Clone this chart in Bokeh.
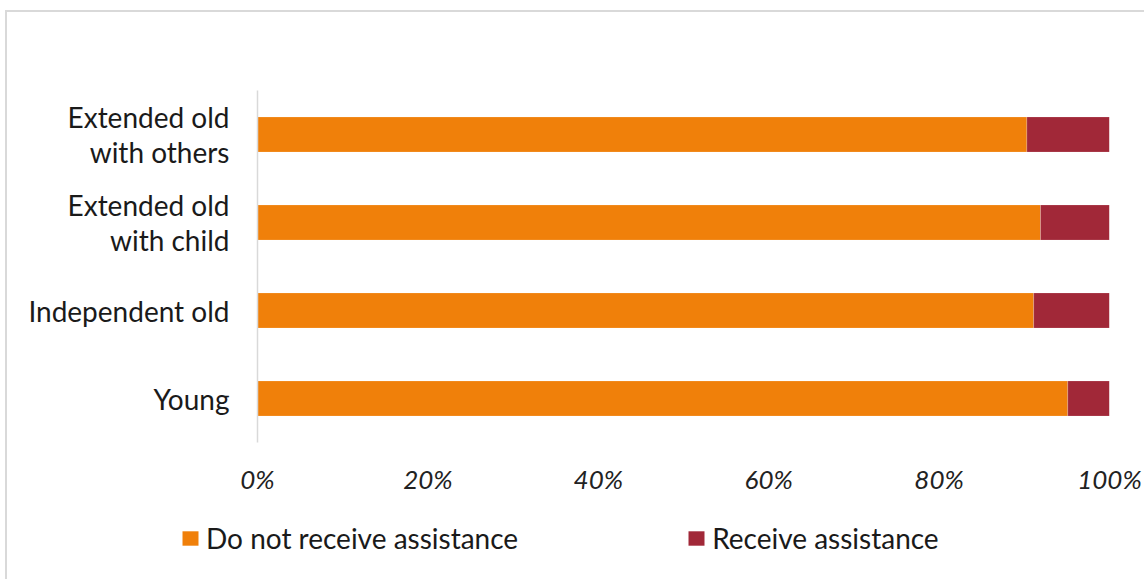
from bokeh.plotting import figure
from bokeh.models import (Range1d, FixedTicker, NumeralTickFormatter, Legend, LegendItem,
                          ColumnDataSource)
from bokeh.embed import file_html
from bokeh.resources import INLINE

categories = ["Young", "Independent old", "Extended old\nwith child", "Extended old\nwith others"]
do_not_receive = [0.951, 0.911, 0.919, 0.903]
receive = [0.049, 0.089, 0.081, 0.097]
series_names = ["Do not receive assistance", "Receive assistance"]
colors = ["#F0800A", "#A12838"]
x_ticks = [0, 0.2, 0.4, 0.6, 0.8, 1.0]

FONT = "Lato"
FRAME_LEFT = 257
MAIN_H = 510
LEG_H = 579 - MAIN_H

source = ColumnDataSource(dict(cat=categories, a=do_not_receive, b=receive))

bg_main = ("linear-gradient(#d9d9d9,#d9d9d9) 5px 10px / 2px 100% no-repeat, "
           "linear-gradient(#d9d9d9,#d9d9d9) 5px 10px / 100% 2px no-repeat, white")
bg_leg = "linear-gradient(#d9d9d9,#d9d9d9) 5px 0px / 2px 100% no-repeat, white"

p = figure(width=1144, height=MAIN_H, y_range=categories, x_range=Range1d(0, 1),
           output_backend="svg", toolbar_location=None,
           min_border_left=FRAME_LEFT, min_border_right=35, min_border_top=90,
           min_border_bottom=MAIN_H - 442, styles={"background": bg_main})
p.outline_line_color = None
p.border_fill_alpha = 0
p.background_fill_alpha = 0
p.grid.visible = False

rs = p.hbar_stack(["a", "b"], y="cat", height=0.4, color=colors, source=source,
                  line_color="white", line_alpha=0.4, line_width=0.5)

xa = p.xaxis[0]
xa.ticker = FixedTicker(ticks=x_ticks)
xa.formatter = NumeralTickFormatter(format="0%")
xa.axis_line_color = None
xa.major_tick_line_color = None
xa.minor_tick_line_color = None
xa.major_tick_out = 0
xa.major_label_standoff = 20
xa.major_label_text_font = FONT
xa.major_label_text_font_style = "italic"
xa.major_label_text_font_size = "26px"
xa.major_label_text_color = "#222222"

ya = p.yaxis[0]
ya.axis_line_color = "#d9d9d9"
ya.axis_line_width = 1.5
ya.major_tick_line_color = None
ya.minor_tick_line_color = None
ya.major_tick_out = 0
ya.major_label_standoff = 28
ya.major_label_text_font = FONT
ya.major_label_text_font_size = "28px"
ya.major_label_text_line_height = 1.05
ya.major_label_text_color = "#1a1a1a"

# legend strip below the chart (its own root, so the legend is not clipped by the chart frame)
lf = figure(width=1144, height=LEG_H, x_range=Range1d(0, 1), y_range=Range1d(0, 1),
            x_axis_type=None, y_axis_type=None, output_backend="svg", toolbar_location=None,
            min_border=0, styles={"background": bg_leg})
lf.outline_line_color = None
lf.border_fill_alpha = 0
lf.background_fill_alpha = 0
lf.grid.visible = False
proxy = ColumnDataSource(dict(y=[0.5], left=[0], right=[0]))  # zero-size legend proxy
lr = [lf.hbar(y="y", left="left", right="right", height=0, fill_color=c, line_alpha=0,
              source=proxy) for c in colors]

legend = Legend(items=[LegendItem(label=n, renderers=[r]) for n, r in zip(series_names, lr)],
                orientation="horizontal", location=(180, 24),
                glyph_width=20, glyph_height=18, label_standoff=6, spacing=168,
                padding=0, margin=0, border_line_color=None, background_fill_alpha=0,
                label_text_font=FONT, label_text_font_size="28px", label_text_color="#1a1a1a")
lf.add_layout(legend, "center")

open("out.html", "w").write(file_html([p, lf], INLINE))
